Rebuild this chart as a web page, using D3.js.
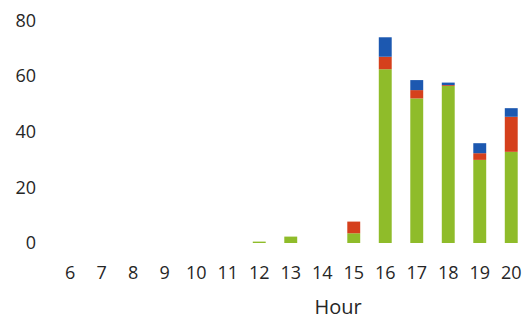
<!DOCTYPE html>
<html><head><meta charset="utf-8">
<script src="https://cdn.jsdelivr.net/npm/d3@7"></script>
<style>body{margin:0;background:#fff;} svg{display:block;}</style>
</head><body>
<svg id="c" width="522" height="320"></svg>
<script>
const hours = ["6","7","8","9","10","11","12","13","14","15","16","17","18","19","20"];
const green = [0,0,0,0,0,0,0.5,2.3,0,3.5,62.5,52,56.5,29.9,32.8];
const red   = [0,0,0,0,0,0,0,0,0,4.2,4.5,3,0.3,2.4,12.6];
const blue  = [0,0,0,0,0,0,0,0,0,0,7,3.6,0.9,3.6,3.1];
const yTicks = [0,20,40,60,80];
const seriesNames = ["green","red","blue"];
const colors = ["#8fbc2a","#d5401c","#1c58b0"];

const svg = d3.select("#c");
const font = "'Open Sans', 'Noto Sans', sans-serif";
const x = d3.scaleBand().domain(hours).range([54.5, 527]).paddingInner(0.59).paddingOuter(0.295);
const y = d3.scaleLinear().domain([0,80]).range([243, 20.6]);

const table = hours.map((h,i)=>({hour:h, green:green[i], red:red[i], blue:blue[i]}));
const stacked = d3.stack().keys(seriesNames)(table);

svg.append("g").selectAll("g").data(stacked).join("g")
  .attr("fill",(d,i)=>colors[i])
  .selectAll("rect").data(d=>d).join("rect")
  .attr("x",d=>x(d.data.hour))
  .attr("width",x.bandwidth())
  .attr("y",d=>y(d[1]))
  .attr("height",d=>Math.max(0,y(d[0])-y(d[1])));

const ya = d3.axisLeft(y).tickValues(yTicks).tickSize(0).tickPadding(0);
svg.append("g").attr("transform","translate(36,0)").call(ya)
  .call(g=>g.select(".domain").remove())
  .selectAll("text").attr("font-family",font).attr("font-size",18).attr("fill","#262626");

const xa = d3.axisBottom(x).tickSize(0).tickPadding(0);
svg.append("g").attr("transform","translate(0,273)").call(xa)
  .call(g=>g.select(".domain").remove())
  .selectAll("text").attr("font-family",font).attr("font-size",18).attr("fill","#262626").attr("dy","0.35em");

svg.append("text").attr("x",338).attr("y",314).attr("text-anchor","middle")
  .attr("font-family",font).attr("font-size",20).attr("fill","#262626").text("Hour");
</script>
</body></html>
